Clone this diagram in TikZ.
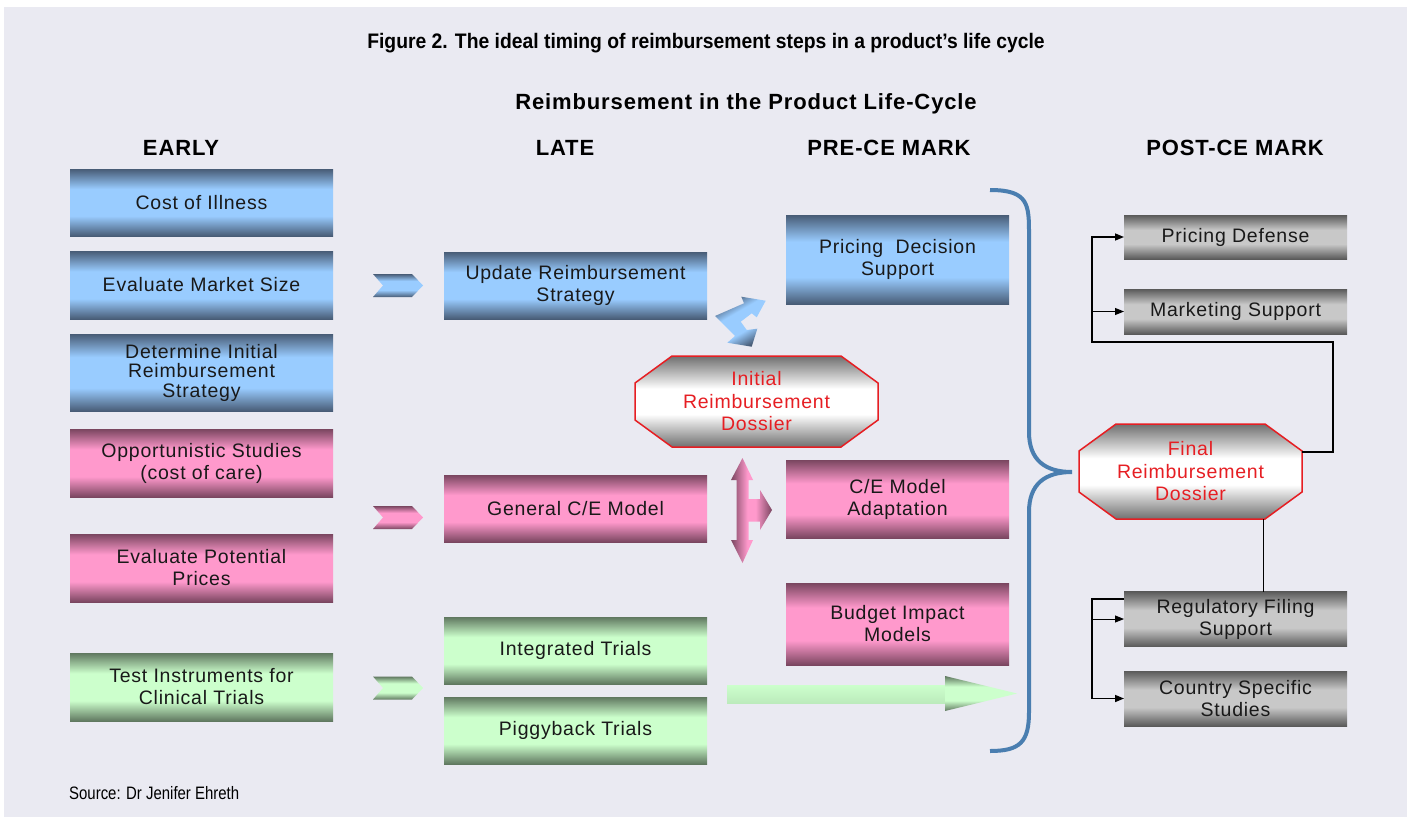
\documentclass[tikz,border=0pt]{standalone}
\usepackage{fontspec}
\setmainfont{Liberation Sans}
\newfontfamily\boxfont[LetterSpace=4]{Liberation Sans}
\newfontfamily\hdrfont[LetterSpace=4]{Liberation Sans}
\newfontfamily\condfont[FakeStretch=0.92]{Liberation Sans}
\newfontfamily\srcfont[FakeStretch=0.83]{Liberation Sans}
\usetikzlibrary{positioning,arrows.meta,backgrounds}

\definecolor{bgpage}{RGB}{234,234,242}
\definecolor{bluedark}{RGB}{72,92,118}
\definecolor{bluelight}{RGB}{153,204,255}
\definecolor{pinkdark}{RGB}{122,70,96}
\definecolor{pinklight}{RGB}{255,153,204}
\definecolor{greendark}{RGB}{96,120,96}
\definecolor{greenlight}{RGB}{204,255,204}
\definecolor{greydark}{RGB}{90,90,90}
\definecolor{greylight}{RGB}{200,200,200}
\definecolor{octgrey}{RGB}{112,112,112}
\definecolor{dosred}{RGB}{230,30,35}
\definecolor{bracecol}{RGB}{74,126,176}

\pgfdeclareverticalshading{bluebar}{100bp}{color(0bp)=(bluedark); color(25bp)=(bluedark); color(40bp)=(bluelight); color(60bp)=(bluelight); color(75bp)=(bluedark); color(100bp)=(bluedark)}
\pgfdeclareverticalshading{pinkbar}{100bp}{color(0bp)=(pinkdark); color(25bp)=(pinkdark); color(40bp)=(pinklight); color(60bp)=(pinklight); color(75bp)=(pinkdark); color(100bp)=(pinkdark)}
\pgfdeclareverticalshading{greenbar}{100bp}{color(0bp)=(greendark); color(25bp)=(greendark); color(40bp)=(greenlight); color(60bp)=(greenlight); color(75bp)=(greendark); color(100bp)=(greendark)}
\pgfdeclareverticalshading{greybar}{100bp}{color(0bp)=(greydark); color(25bp)=(greydark); color(42bp)=(greylight); color(58bp)=(greylight); color(75bp)=(greydark); color(100bp)=(greydark)}
\pgfdeclareverticalshading{octbar}{100bp}{color(0bp)=(octgrey); color(25bp)=(octgrey); color(43bp)=(white); color(57bp)=(white); color(75bp)=(octgrey); color(100bp)=(octgrey)}
\pgfdeclarehorizontalshading{pinkcol}{100bp}{color(0bp)=(pinkdark); color(25bp)=(pinkdark); color(45bp)=(pinklight); color(55bp)=(pinklight); color(75bp)=(pinkdark); color(100bp)=(pinkdark)}

\tikzset{
  box/.style={minimum width=263pt, minimum height=67pt, inner sep=0pt, outer sep=0pt,
    align=center, font=\boxfont\fontsize{19.5}{22}\selectfont, text=black!90},
  bluebox/.style={box, shade, shading=bluebar},
  pinkbox/.style={box, shade, shading=pinkbar},
  greenbox/.style={box, shade, shading=greenbar},
  precebox/.style={minimum width=223pt},
  greybox/.style={box, minimum width=223pt, shade, shading=greybar},
  dossier/.style={inner sep=0pt, outer sep=0pt, align=center, text=dosred,
    font=\boxfont\fontsize{19.5}{22.5}\selectfont},
  octfill/.style={shading=octbar, draw=dosred, line width=1.5pt},
  hdr/.style={inner sep=0pt, font=\hdrfont\fontsize{22}{26}\selectfont\bfseries},
  conn/.style={line width=1.5pt, black},
  tip/.style={-{Triangle[length=9pt,width=7pt]}}
}

\begin{document}
\begin{tikzpicture}[x=1pt,y=-1pt]
\useasboundingbox (0,0) rectangle (1407,819);
\begin{scope}[on background layer]
  \fill[bgpage] (4,7) rectangle (1407,817);
\end{scope}

% titles
\node[inner sep=0pt, font=\condfont\fontsize{21}{24}\selectfont\bfseries] (fig) at (706,43)
  {Figure 2. The ideal timing of reimbursement steps in a product’s life cycle};
\node[hdr] (lifecyc) at (746,104) {Reimbursement in the Product Life-Cycle};
\node[hdr] (early) at (181,148) {EARLY};
\node[hdr] (late) at (565,148) {LATE};
\node[hdr] (prece) at (889,148) {PRE-CE MARK};
\node[hdr] (postce) at (1235,148) {POST-CE MARK};

% early
\node[bluebox] (costill) at (201.5,202.5) {Cost of Illness};
\node[bluebox, minimum height=68pt] (mktsize) at (201.5,285) {Evaluate Market Size};
\node[bluebox, minimum height=77pt, font=\boxfont\fontsize{19.5}{19.5}\selectfont] (initstrat) at (201.5,372.5)
  {Determine Initial\\Reimbursement\\Strategy};
\node[pinkbox, minimum height=68pt] (oppstud) at (201.5,463) {Opportunistic Studies\\(cost of care)};
\node[pinkbox, minimum height=68pt] (potprice) at (201.5,568) {Evaluate Potential\\Prices};
\node[greenbox, minimum height=68pt] (testinst) at (201.5,687) {Test Instruments for\\Clinical Trials};

% late
\node[bluebox] (updstrat) at (575.5,285.5) {Update Reimbursement\\Strategy};
\node[pinkbox] (genmodel) at (575.5,508.5) {General C/E Model};
\node[greenbox] (inttrial) at (575.5,650.5) {Integrated Trials};
\node[greenbox, below=13pt of inttrial] (pigtrial) {Piggyback Trials};

% pre-ce
\node[bluebox, precebox, minimum height=89pt] (pricedec) at (897.5,259.5) {Pricing~ Decision\\Support};
\node[pinkbox, precebox, minimum height=78pt] (ceadapt) at (897.5,499) {C/E Model\\Adaptation};
\node[pinkbox, precebox, minimum height=82pt] (budimp) at (897.5,624) {Budget Impact\\Models};

% post-ce
\node[greybox, minimum height=44pt] (pricedef) at (1235.5,237) {Pricing Defense};
\node[greybox, minimum height=45pt] (mktsup) at (1235.5,311.5) {Marketing Support};
\node[greybox, minimum height=55pt] (regfil) at (1235.5,619) {Regulatory Filing\\Support};
\node[greybox, minimum height=55pt] (cntry) at (1235.5,698.5) {Country Specific\\Studies};

% dossiers
\node[dossier, minimum width=243pt, minimum height=91pt] (initdos) at (756.5,401.5) {Initial\\Reimbursement\\Dossier};
\node[dossier, minimum width=223pt, minimum height=95pt] (finaldos) at (1190.5,471.5) {Final\\Reimbursement\\Dossier};
\begin{scope}[on background layer]
  \foreach \dos in {initdos,finaldos}
    \shadedraw[octfill] ([xshift=37pt]\dos.north west) -- ([xshift=-37pt]\dos.north east)
      -- ([yshift=-27pt]\dos.north east) -- ([yshift=27pt]\dos.south east)
      -- ([xshift=-37pt]\dos.south east) -- ([xshift=37pt]\dos.south west)
      -- ([yshift=27pt]\dos.south west) -- ([yshift=-27pt]\dos.north west) -- cycle;
\end{scope}

% chevrons
\foreach \ypos/\shd in {285.5/bluebar, 517.5/pinkbar, 688/greenbar}
  \shade[shading=\shd] (373,\ypos-11.5) -- (412,\ypos-11.5) -- (423,\ypos) -- (412,\ypos+11.5)
    -- (373,\ypos+11.5) -- (383,\ypos) -- cycle;

% bent arrow
\shade[shading=bluebar, shading angle=30] (715,316) -- (744,303.3) -- (741.3,296.7) -- (765.7,300.7)
  -- (756.7,317.3) -- (751.7,313.3) -- (740.7,321.7) -- (746.7,330) -- (757.3,328.7)
  -- (751.7,346.7) -- (727.3,342.7) -- (735,336) -- cycle;

% cross arrow
\shade[shading=pinkcol] (742.5,458) -- (753,480) -- (748.5,480) -- (748.5,499) -- (760,499)
  -- (760,490) -- (772,510) -- (760,530) -- (760,521.5) -- (748.5,521.5) -- (748.5,540)
  -- (753,540) -- (742.5,563) -- (731,540) -- (736.5,540) -- (736.5,480) -- (731,480) -- cycle;

% trials arrow
\shade[top color=greenlight, bottom color=greenlight!85!greendark] (727,685) rectangle (946,703);
\shade[shading=greenbar] (945,676) -- (1017,693.5) -- (945,711) -- cycle;

% brace
\draw[bracecol, line width=4pt] (990,190) .. controls (1029,190) and (1029,205) .. (1029,235)
  -- (1029,432) .. controls (1029,460) and (1045,472) .. (1072,472)
  .. controls (1045,472) and (1029,484) .. (1029,512)
  -- (1029,712) .. controls (1029,742) and (1020,751) .. (990,751);

% connectors
\coordinate (busA) at (1092,342);
\coordinate (busB) at (1092,599);
\draw[conn, tip] ([yshift=19.5pt]finaldos.east) -- ++(31,0) |- (busA) |- (pricedef.west);
\draw[conn, line width=1pt, tip] (busA |- mktsup.west) -- (mktsup.west);
\draw[conn] ([xshift=73pt]finaldos.south) -- ([xshift=73pt]finaldos.south |- regfil.north);
\draw[conn, tip] ([yshift=20pt]regfil.west) -- (busB) |- (cntry.west);
\draw[conn, line width=1pt, tip] (busB |- regfil.west) -- (regfil.west);

\node[anchor=west, inner sep=0pt, font=\srcfont\fontsize{18}{20}\selectfont] (source) at (69,793)
  {Source: Dr Jenifer Ehreth};
\end{tikzpicture}
\end{document}
